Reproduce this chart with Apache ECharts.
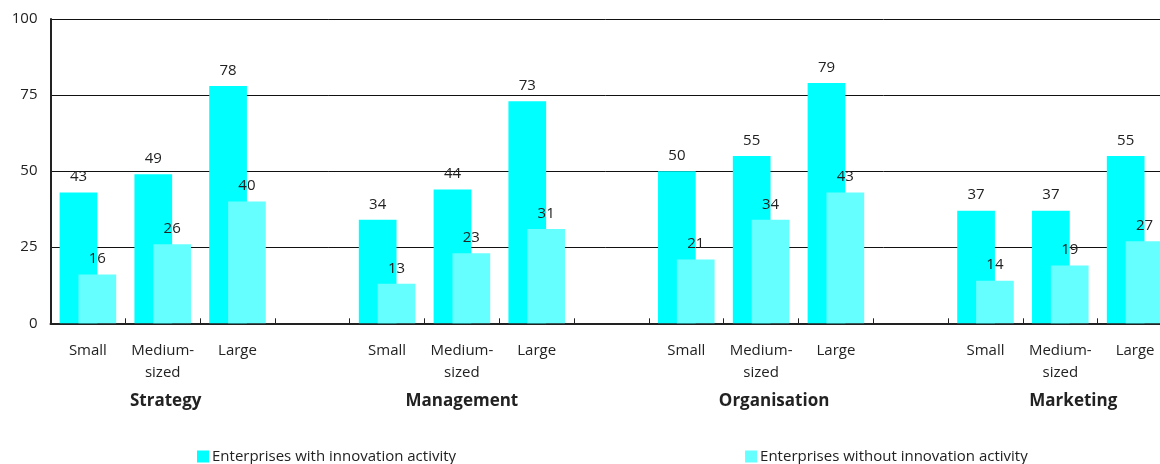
<!DOCTYPE html>
<html>
<head>
<meta charset="utf-8">
<script src="https://cdn.jsdelivr.net/npm/echarts@6/dist/echarts.min.js"></script>
<style>
  html, body { margin: 0; padding: 0; background: #fff; overflow: hidden; }
  #chart { width: 1160px; height: 464px; }
</style>
</head>
<body>
<div id="chart"></div>
<script>
// Share of enterprises by area, size class and innovation status (%)
const groups = ['Strategy', 'Management', 'Organisation', 'Marketing'];
const sizes = ['Small', 'Medium-\nsized', 'Large'];
const withInnovation = {
  Strategy: [43, 49, 78],
  Management: [34, 44, 73],
  Organisation: [50, 55, 79],
  Marketing: [37, 37, 55]
};
const withoutInnovation = {
  Strategy: [16, 26, 40],
  Management: [13, 23, 31],
  Organisation: [21, 34, 43],
  Marketing: [14, 19, 27]
};
const seriesNames = ['Enterprises with innovation activity', 'Enterprises without innovation activity'];
const yTicks = { min: 0, max: 100, interval: 25 };

// Horizontal nudge (px) for each area title under its size classes
const groupTitleShift = [6, 0, 26, 26];

// Build the slot layout: three size classes per area, an empty slot between areas
const categories = [];
const groupSlots = [];
const seriesA = [];
const seriesB = [];
groups.forEach((g, gi) => {
  sizes.forEach((s, si) => {
    categories.push(s);
    groupSlots.push(si === 1
      ? { value: g, textStyle: { padding: [0, 0, 0, groupTitleShift[gi]] } }
      : '');
    seriesA.push(withInnovation[g][si]);
    seriesB.push(withoutInnovation[g][si]);
  });
  if (gi < groups.length - 1) {
    categories.push('');
    groupSlots.push('');
    seriesA.push(null);
    seriesB.push(null);
  }
});

const font = '"Open Sans", "Noto Sans", sans-serif';
const textColor = '#222';

const chart = echarts.init(document.getElementById('chart'), null, { renderer: 'canvas' });
chart.setOption({
  animation: false,
  textStyle: { fontFamily: font },
  // the plot runs slightly past the right edge of the canvas
  grid: {
    left: 50.5, width: 1122, top: 19, bottom: 140.7,
    containLabel: false, outerBoundsMode: 'none'
  },
  legend: {
    data: seriesNames,
    left: 192,
    top: 444,
    itemWidth: 12,
    itemHeight: 12,
    itemGap: 289,
    icon: 'rect',
    textStyle: { fontFamily: font, fontSize: 15, color: textColor, padding: [0, 0, 0, -2] }
  },
  xAxis: [
    {
      type: 'category',
      data: categories,
      axisLine: { lineStyle: { color: '#222', width: 2 } },
      axisTick: { show: true, inside: true, length: 5, lineStyle: { color: '#222', width: 1 } },
      axisLabel: {
        interval: 0,
        margin: 16,
        fontFamily: font,
        fontSize: 15,
        lineHeight: 22,
        color: textColor
      },
      splitLine: { show: false }
    },
    {
      type: 'category',
      position: 'bottom',
      data: groupSlots,
      axisLine: { show: false },
      axisTick: { show: false },
      axisLabel: {
        interval: 0,
        margin: 69,
        fontFamily: font,
        fontSize: 17,
        fontWeight: 'bold',
        color: textColor
      }
    }
  ],
  yAxis: {
    type: 'value',
    min: yTicks.min,
    max: yTicks.max,
    interval: yTicks.interval,
    axisLine: { show: true, lineStyle: { color: '#222', width: 2 } },
    axisTick: { show: false },
    axisLabel: { margin: 13, fontFamily: font, fontSize: 15, color: textColor },
    splitLine: { show: true, lineStyle: { color: '#111', width: 1 } }
  },
  series: [
    {
      name: seriesNames[0],
      type: 'bar',
      data: seriesA,
      barWidth: 37.7,
      barGap: '-50%',
      itemStyle: { color: '#00ffff' },
      label: {
        show: true,
        position: 'top',
        distance: 8,
        fontFamily: font,
        fontSize: 15,
        color: textColor
      }
    },
    {
      name: seriesNames[1],
      type: 'bar',
      data: seriesB,
      barWidth: 37.7,
      itemStyle: { color: '#66ffff' },
      label: {
        show: true,
        position: 'top',
        distance: 8,
        fontFamily: font,
        fontSize: 15,
        color: textColor
      }
    }
  ]
});
</script>
</body>
</html>
